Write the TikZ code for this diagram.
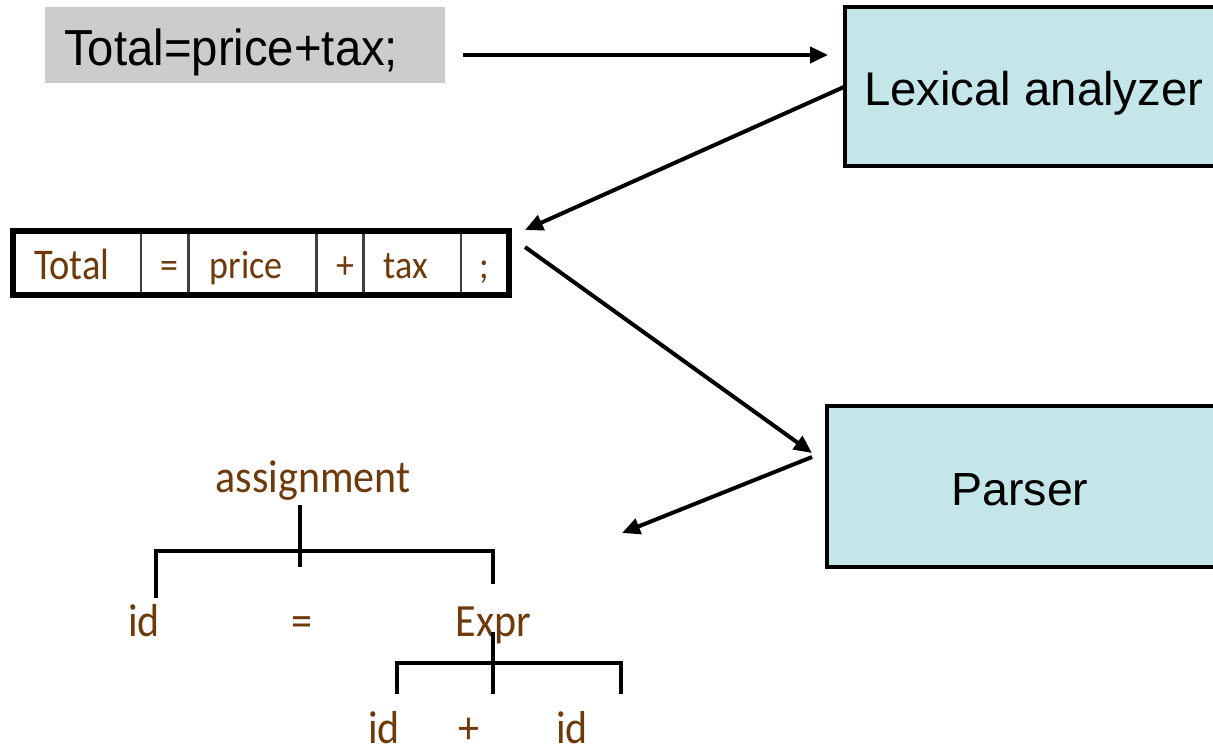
\documentclass[tikz,border=0pt]{standalone}
\usepackage{fontspec}
\usepackage{graphicx}
\usetikzlibrary{arrows.meta,calc}
\newfontfamily\arialfont{Liberation Sans}
\newfontfamily\calfont{Carlito}
\definecolor{boxgray}{HTML}{CCCCCC}
\definecolor{boxcyan}{HTML}{C5E6E8}
\definecolor{tokbrown}{RGB}{110,58,10}
% slightly tall lettering
\newcommand\tallword[1]{\scalebox{1}[1.1]{#1}}
\tikzset{
  sanslabel/.style={font=\arialfont\fontsize{47.3}{56}\selectfont, inner sep=0},
  toktext/.style={font=\calfont\fontsize{36}{42}\selectfont, text=tokbrown, inner sep=0, anchor=base},
  treetext/.style={font=\calfont\fontsize{42}{48}\selectfont, text=tokbrown, inner sep=0, anchor=base},
  arr/.style={line width=4pt, -{Triangle[length=18pt,width=16pt]}},
  treeline/.style={line width=4pt},
  procbox/.style={draw, line width=4pt, fill=boxcyan, outer sep=0, inner sep=0, anchor=north west},
  srcbox/.style={fill=boxgray, outer sep=0, inner sep=0, anchor=north west},
  tokbox/.style={draw, line width=6pt, outer sep=0, inner sep=0, anchor=north west},
  divider/.style={line width=2.5pt, draw=black!75}
}
\begin{document}
\begin{tikzpicture}[x=1pt,y=-1pt]
\useasboundingbox (0,0) rectangle (1213,753);

% source statement
\node[srcbox, minimum width=400pt, minimum height=76pt] (src) at (45,7) {};
\node[sanslabel, anchor=base west] (srctext) at (64,65) {\scalebox{1}[1.07]{Total=price+tax;}};

% processing stages
\node[procbox, minimum width=380pt, minimum height=159pt] (lex) at (845,7) {};
\node[sanslabel, anchor=base west] (lextext) at (864,105) {Lexical analyzer};
\node[procbox, minimum width=395pt, minimum height=161pt] (parser) at (827,406) {};
\node[sanslabel, font=\arialfont\fontsize{46.5}{56}\selectfont, anchor=base] (parsertext) at (1020,505) {Parser};

% token stream
\node[tokbox, minimum width=496pt, minimum height=64pt] (tok) at (13,231) {};
\foreach \x in {141,188.5,316.5,363.5,461}
  \draw[divider] (\x,234) -- (\x,292);
\node[toktext, font=\calfont\fontsize{38.5}{44}\selectfont] (tk1) at (72,279) {\scalebox{1}[1.14]{Total}};
\node[toktext] (tk2) at (169,278) {\tallword{=}};
\node[toktext] (tk3) at (246,278) {\tallword{price}};
\node[toktext] (tk4) at (345,278) {\tallword{+}};
\node[toktext] (tk5) at (406,278) {\tallword{tax}};
\node[toktext] (tk6) at (484,278) {\tallword{;}};

% parse tree
\node[treetext] (asg) at (313,492) {\tallword{assignment}};
\node[treetext] (lid) at (144,636) {\tallword{id}};
\node[treetext] (eq) at (302,636) {\tallword{=}};
\node[treetext] (expr) at (493.5,636) {\tallword{Expr}};
\node[treetext] (eid1) at (384,743) {\tallword{id}};
\node[treetext] (plus) at (469,743) {\tallword{+}};
\node[treetext] (eid2) at (572,743) {\tallword{id}};
\draw[treeline] (300,505) -- (300,567);
\draw[treeline] (156,598) -- (156,551) -- (493,551) -- (493,584);
\draw[treeline] (493,632) -- (493,694);
\draw[treeline] (397,694) -- (397,663) -- (621,663) -- (621,694);
\coordinate (treein) at (622,533);

% flow arrows
\draw[arr] ($(src.east)+(18,10)$) -- ($(src.east -| lex.west)+(-17,10)$);
\draw[arr] (lex.west) -- ($(tok.north east)+(16,-1)$);
\draw[arr] ($(tok.north east)+(16,16)$) -- ($(parser.west)+(-15,-33.5)$);
\draw[arr] ($(parser.west)+(-15,-29.5)$) -- (treein);
\end{tikzpicture}
\end{document}
